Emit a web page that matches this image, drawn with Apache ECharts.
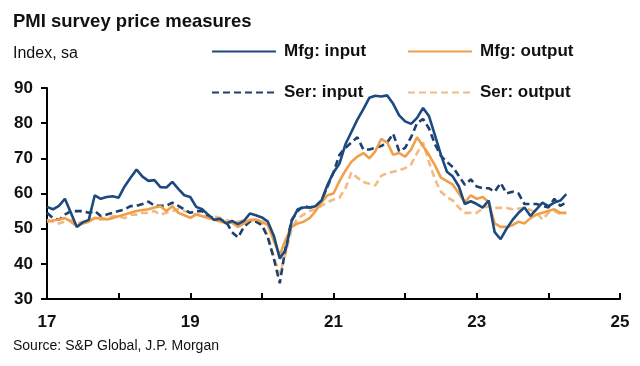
<!DOCTYPE html>
<html><head><meta charset="utf-8">
<script src="https://cdn.jsdelivr.net/npm/echarts@6/dist/echarts.min.js"></script>
<style>html,body{margin:0;padding:0;background:#fff}#c{width:640px;height:366px}</style>
</head><body><div id="c"></div>
<script>
// Monthly data, Jan 2017 .. Apr 2024 (x axis in two-digit years)
const startYear = 17;
const xTickLabels = [17, 19, 21, 23, 25];
const yTicks = [30, 40, 50, 60, 70, 80, 90];
const seriesNames = ['Mfg: input', 'Mfg: output', 'Ser: input', 'Ser: output'];

const mfgInput = [
  56.2,55.5,56.5,58.5,54.5,50.5,51.8,52.5,59.5,58.5,59.0,59.2,
  58.8,62.0,64.5,66.8,64.8,63.6,63.8,61.8,61.7,63.3,61.3,59.5,
  59.0,56.2,55.5,54.0,52.5,52.8,51.5,52.2,51.3,52.2,54.3,53.8,
  53.2,52.0,48.0,41.5,44.0,52.2,55.5,56.0,56.0,56.4,58.0,62.5,
  66.0,68.5,74.0,77.5,81.0,84.0,87.2,87.8,87.6,87.9,85.5,82.2,
  80.5,79.8,81.5,84.3,82.0,76.5,71.0,66.2,64.8,62.0,57.0,57.8,
  57.0,56.0,58.0,49.0,47.0,50.0,52.5,54.5,56.0,53.6,55.5,57.4,
  56.4,57.4,58.0,59.8
];
const mfgOutput = [
  52.0,52.3,52.6,53.0,52.0,50.7,51.5,52.0,53.0,53.0,52.6,53.0,
  53.5,54.0,54.5,55.0,55.3,55.5,56.0,56.4,55.0,56.4,54.5,53.8,
  53.1,54.0,53.5,53.0,52.6,52.0,51.7,51.7,50.5,51.5,52.5,52.6,
  52.0,51.0,46.5,42.5,47.0,50.5,51.5,52.0,53.0,55.0,57.5,59.5,
  60.0,63.5,66.5,69.0,70.5,71.5,70.0,72.0,75.5,74.5,71.0,71.5,
  70.5,72.5,76.0,73.5,71.0,68.0,64.5,63.5,62.5,60.0,57.5,59.5,
  58.5,59.0,57.5,51.5,50.5,50.5,51.0,52.0,51.5,53.0,54.0,54.5,
  55.0,55.5,54.5,54.5
];
const serInput = [
  54.5,53.0,52.5,54.0,55.0,55.0,55.0,54.5,55.0,53.6,54.0,54.5,
  55.0,55.5,56.4,56.5,57.0,57.7,56.5,56.5,56.5,57.4,56.5,55.5,
  54.5,55.0,55.0,53.5,53.0,52.5,52.0,49.0,47.5,50.5,52.0,52.0,
  51.0,47.5,41.5,34.5,45.0,52.5,55.0,56.5,56.0,56.4,58.0,62.0,
  66.0,71.0,73.0,74.5,76.0,72.5,72.5,73.0,73.5,74.5,77.0,72.0,
  73.0,76.0,80.0,81.2,78.5,74.0,70.7,69.0,67.5,65.0,62.5,64.0,
  62.0,61.5,61.5,60.5,63.0,60.0,60.5,60.0,57.0,57.0,57.0,56.5,
  56.0,58.5,56.5,57.5
];
const serOutput = [
  52.5,52.0,51.5,52.0,52.5,51.5,52.0,52.5,53.0,52.5,53.0,53.5,
  53.5,53.0,54.0,54.0,54.5,54.5,55.0,54.0,54.5,55.0,55.5,55.0,
  54.5,54.0,54.0,53.5,53.5,53.0,52.5,52.0,52.0,52.5,52.0,52.5,
  51.5,48.0,42.0,37.0,43.0,50.0,53.0,54.0,55.0,55.5,56.5,57.5,
  58.3,58.8,61.5,66.0,64.5,63.3,62.8,62.3,65.0,65.8,66.2,66.6,
  67.2,68.3,71.5,74.5,69.0,64.0,60.5,59.0,58.0,56.0,54.5,54.5,
  54.5,55.8,56.4,55.9,55.9,55.9,55.5,55.7,55.9,55.3,54.5,52.6,
  54.5,55.0,54.2,54.5
];

const F = "'Liberation Sans Narrow','Liberation Sans',Arial,sans-serif";
const colors = ['#1d4a7e', '#f0a04b', '#1f3f6e', '#f3bb83'];
const dashed = [false, false, true, true];
const allData = [mfgInput, mfgOutput, serInput, serOutput];

const toPairs = arr => arr.map((v, i) => [startYear + i / 12, v]);

const series = seriesNames.map((name, k) => ({
  name: name,
  type: 'line',
  data: toPairs(allData[k]),
  symbol: 'none',
  showSymbol: false,
  smooth: false,
  z: [4, 3, 2, 1][k],
  color: colors[k],
  lineStyle: { color: colors[k], width: 2.6, type: dashed[k] ? [7, 4] : 'solid' }
}));

const legendPos = [
  { left: 211, top: 43 }, { left: 407, top: 43 },
  { left: 211, top: 84 }, { left: 407, top: 84 }
];
const legends = seriesNames.map((name, k) => ({
  data: [name],
  left: legendPos[k].left,
  top: legendPos[k].top,
  itemWidth: 64,
  itemHeight: 14,
  itemGap: 0,
  padding: 0,
  itemStyle: { opacity: 0 },
  textStyle: { fontFamily: F, fontWeight: 'bold', fontSize: 17, color: '#111', padding: [0, 0, 0, 3] }
}));

const chart = echarts.init(document.getElementById('c'), null, { renderer: 'canvas' });
chart.setOption({
  animation: false,
  backgroundColor: '#fff',
  title: [
    { text: 'PMI survey price measures', left: 8, top: 7,
      textStyle: { fontFamily: F, fontWeight: 'bold', fontSize: 18.5, color: '#111' } },
    { text: 'Index, sa', left: 8, top: 41,
      textStyle: { fontFamily: F, fontWeight: 'normal', fontSize: 16, color: '#111' } },
    { text: 'Source: S&P Global, J.P. Morgan', left: 8, top: 334,
      textStyle: { fontFamily: F, fontWeight: 'normal', fontSize: 14, color: '#111' } }
  ],
  legend: legends,
  grid: { left: 47, right: 20, top: 88, bottom: 67, containLabel: false },
  xAxis: {
    type: 'value', min: 17, max: 25, interval: 1,
    axisLine: { lineStyle: { color: '#000', width: 2 } },
    axisTick: { inside: true, length: 6, lineStyle: { color: '#000', width: 2 } },
    axisLabel: {
      fontFamily: F, fontWeight: 'bold', fontSize: 17, color: '#111', margin: 15,
      formatter: v => (xTickLabels.indexOf(Math.round(v)) >= 0 ? String(Math.round(v)) : '')
    },
    splitLine: { show: false }
  },
  yAxis: {
    type: 'value', min: yTicks[0], max: yTicks[yTicks.length - 1], interval: 10,
    axisLine: { show: true, lineStyle: { color: '#000', width: 2 } },
    axisTick: { show: true, inside: false, length: 6, lineStyle: { color: '#000', width: 2 } },
    axisLabel: { fontFamily: F, fontWeight: 'bold', fontSize: 17, color: '#111', margin: 14 },
    splitLine: { show: false }
  },
  series: series
});
</script>
</body></html>
